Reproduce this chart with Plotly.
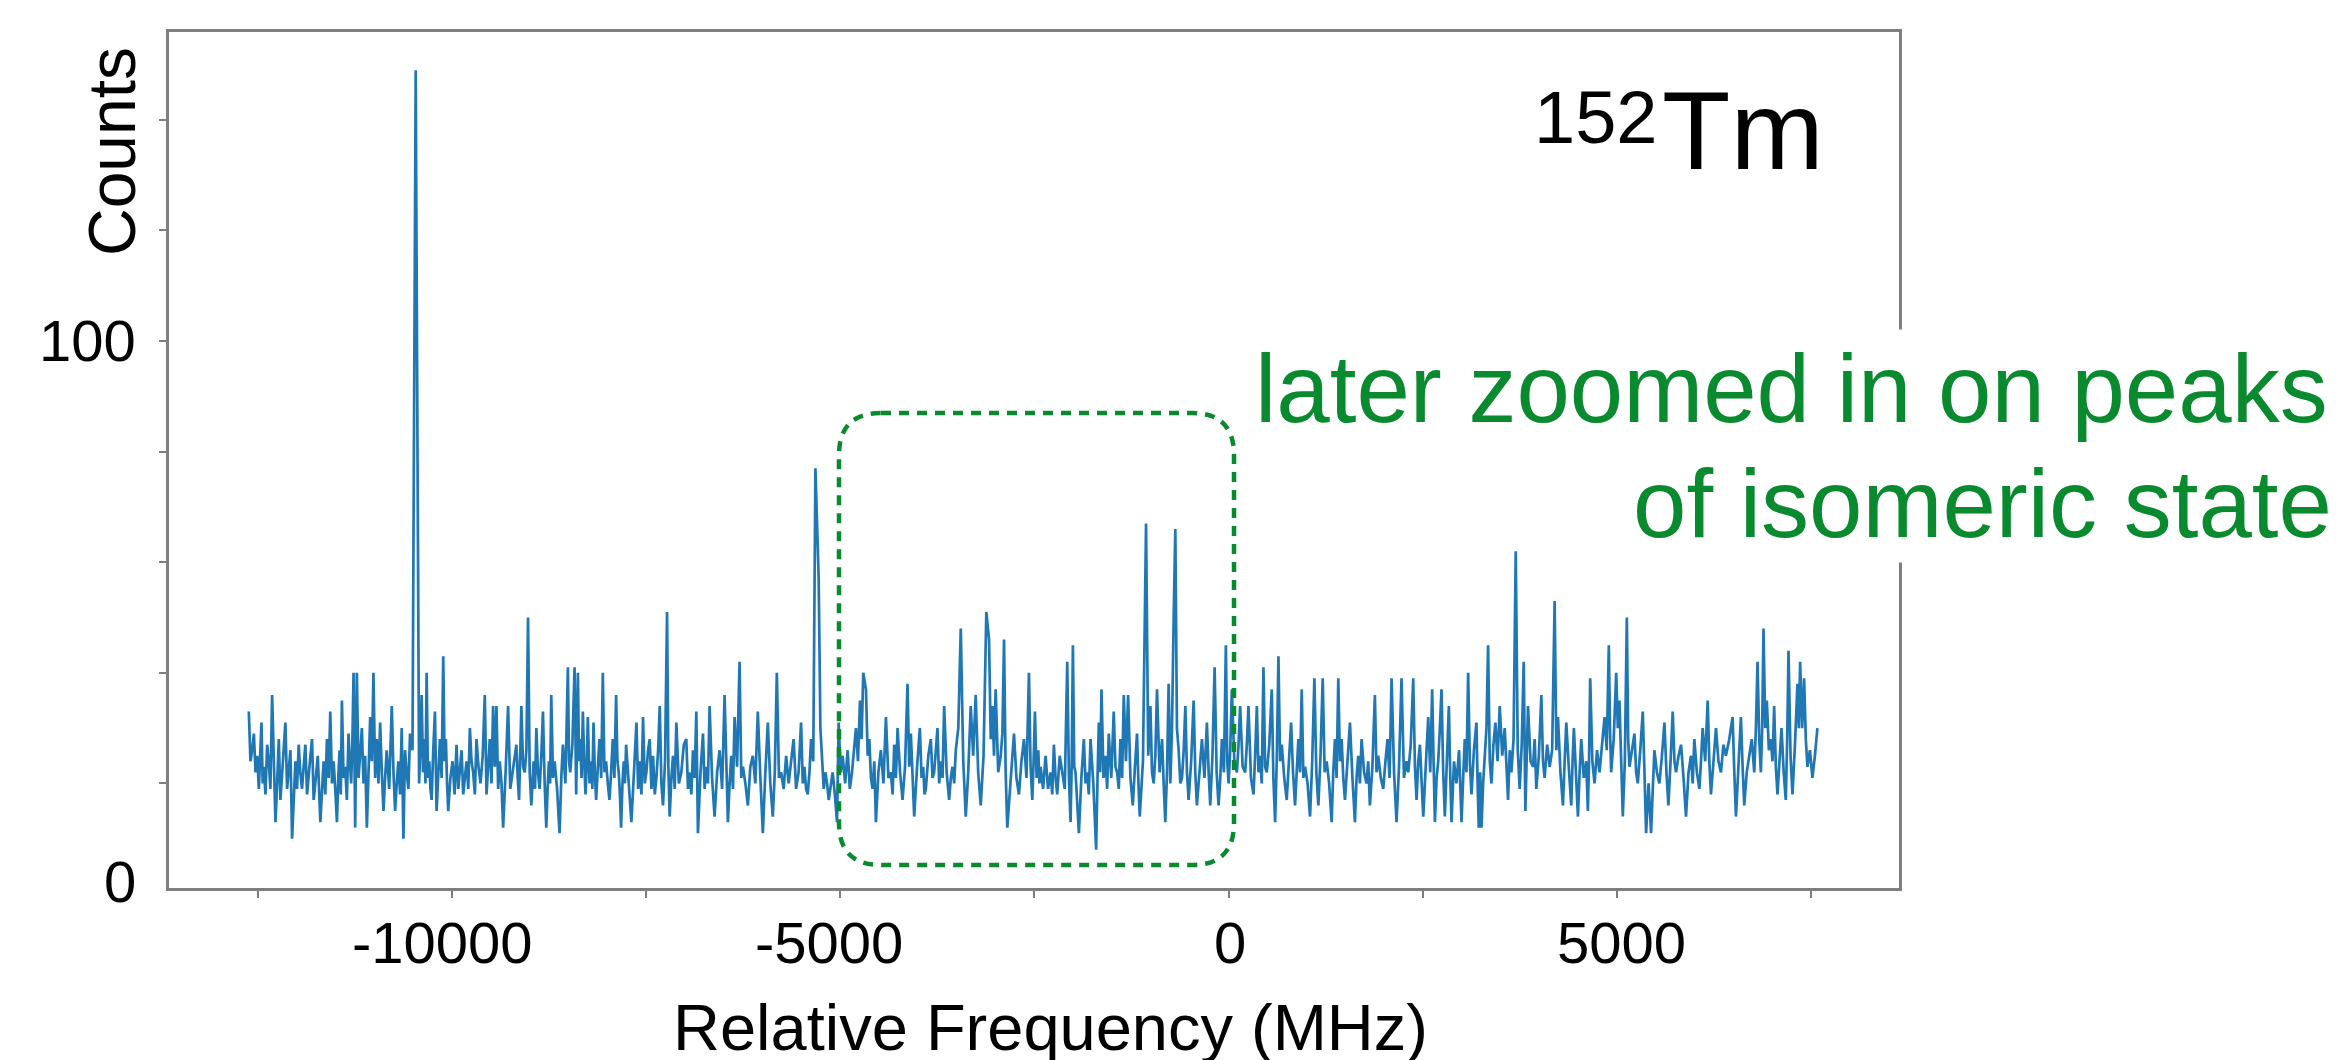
import plotly.graph_objects as go

# ---------------- data, (MHz, counts) ----------------
scan_part1 = [
(-12618,33),(-12597,24),(-12575,26),(-12553,29),(-12532,22),(-12510,25),(-12489,19),(-12472,24),(-12455,31),(-12440,20),
(-12425,23),(-12404,18),(-12382,27),(-12361,24),(-12340,19),(-12318,36),(-12296,21),(-12275,13),(-12253,20),(-12232,28),
(-12211,17),(-12190,22),(-12168,26),(-12147,31),(-12125,19),(-12104,22),(-12082,26),(-12061,10),(-12040,18),(-12018,24),
(-11997,19),(-11976,27),(-11955,22),(-11933,19),(-11912,23),(-11890,27),(-11868,18),(-11847,22),(-11825,25),(-11804,28),
(-11783,17),(-11762,20),(-11730,25),(-11697,13),(-11676,19),(-11655,24),(-11633,18),(-11612,28),(-11590,21),(-11569,33),
(-11547,20),(-11526,24),(-11505,19),(-11483,13),(-11466,21),(-11449,26),(-11434,18),(-11419,35),(-11398,21),(-11377,23),
(-11355,17),(-11334,29),(-11317,24),(-11300,20),(-11285,27),(-11269,40),(-11248,12),(-11227,40),(-11205,21),(-11184,26),
(-11162,30),(-11141,20),(-11120,25),(-11098,12),(-11076,22),(-11055,32),(-11034,24),(-11013,40),(-10991,21),(-10970,28),
(-10948,20),(-10927,31),(-10905,22),(-10884,15),(-10863,21),(-10842,26),(-10810,19),(-10777,34),(-10755,22),(-10734,15),
(-10713,20),(-10692,24),(-10670,18),(-10649,30),(-10627,10),(-10606,26),(-10585,22),(-10563,19),(-10542,29),(-10510,26),
(-10469,149),(-10425,20),(-10408,27),(-10392,36),(-10375,22),(-10358,28),(-10343,20),(-10328,40),(-10311,21),(-10294,24),
(-10279,19),(-10264,17),(-10243,26),(-10221,33),(-10200,15),(-10178,22),(-10157,28),(-10135,21),(-10114,43),(-10097,24),
(-10080,28),(-10065,20),(-10050,15),(-10022,21),(-9994,24),(-9968,18),(-9943,27),(-9921,19),(-9900,22),(-9878,26),
(-9857,18),(-9835,21),(-9814,24),(-9792,19),(-9771,30),(-9750,24),(-9729,22),(-9707,18),(-9686,28),(-9660,23),
(-9634,20),(-9606,25),(-9579,36),(-9557,18),(-9536,24),(-9515,28),(-9493,20),(-9472,34),(-9450,23),(-9429,34),
(-9407,19),(-9386,24),(-9364,20),(-9343,12),(-9311,22),(-9279,34),(-9251,19),(-9224,22),(-9198,25),(-9172,27),
(-9155,21),(-9138,17),(-9123,25),(-9108,34),(-9086,23),(-9065,22),(-9043,26),(-9022,50),(-9001,22),(-8980,16),
(-8965,20),(-8950,24),(-8932,19),(-8915,30),(-8894,22),(-8873,19),(-8851,25),(-8830,33),(-8808,20),(-8787,12),
(-8770,19),(-8753,24),(-8738,20),(-8723,36),(-8701,21),(-8680,24),(-8648,19),(-8616,11),(-8594,21),(-8573,27),
(-8541,20),(-8509,41),(-8494,24),(-8479,22),(-8451,27),(-8423,41),(-8402,18),(-8380,40),(-8365,24),(-8351,28),
(-8333,21),(-8316,33),(-8299,24),(-8282,18),(-8267,23),(-8252,32),(-8230,20),(-8209,24),(-8194,19),(-8179,31),
(-8162,22),(-8145,17),(-8123,23),(-8102,28),(-8080,21),(-8059,40),(-8038,22),(-8017,24),(-7995,20),(-7974,17),
(-7952,22),(-7931,28),(-7910,21),(-7888,36),(-7871,24),(-7854,22),(-7839,18),(-7824,12),(-7806,20),(-7789,24),
(-7774,20),(-7759,27),(-7725,20),
]

scan_part2 = [
(-7691,13),(-7658,22),(-7626,31),(-7604,19),(-7583,24),(-7562,18),(-7541,32),(-7519,20),(-7498,22),(-7476,26),
(-7455,28),(-7433,19),(-7412,25),(-7390,18),(-7369,21),(-7347,26),(-7326,34),(-7305,20),(-7284,16),(-7258,24),
(-7232,51),(-7215,23),(-7198,14),(-7176,21),(-7155,25),(-7133,19),(-7112,31),(-7080,20),(-7048,22),(-7016,27),
(-6984,28),(-6962,19),(-6941,22),(-6919,18),(-6898,26),(-6876,21),(-6855,33),(-6834,11),(-6801,22),(-6769,29),
(-6748,19),(-6727,23),(-6705,20),(-6684,34),(-6652,21),(-6620,14),(-6587,22),(-6555,26),(-6523,19),(-6491,36),
(-6469,22),(-6448,13),(-6426,20),(-6405,25),(-6383,19),(-6362,32),(-6330,23),(-6298,42),(-6276,21),(-6255,23),
(-6223,20),(-6191,16),(-6159,23),(-6127,25),(-6095,20),(-6063,33),(-6030,21),(-5998,11),(-5966,22),(-5934,31),
(-5902,20),(-5870,14),(-5844,22),(-5818,40),(-5790,21),(-5763,22),(-5730,19),(-5698,25),(-5666,20),(-5634,24),
(-5602,28),(-5570,19),(-5538,22),(-5506,31),(-5484,20),(-5463,23),(-5441,19),(-5420,18),(-5398,22),(-5377,28),
(-5349,24),(-5321,77),(-5279,57),(-5257,30),(-5236,25),(-5214,19),(-5193,22),(-5171,20),(-5150,17),(-5124,20),
(-5099,22),(-5071,18),(-5043,13),(-5022,31),(-4996,22),(-4970,25),(-4938,20),(-4906,26),(-4878,19),(-4850,22),
(-4824,26),(-4799,30),(-4773,24),(-4747,35),(-4726,28),(-4705,40),(-4670,37),(-4648,25),(-4627,28),(-4606,21),
(-4585,19),(-4563,24),(-4542,13),(-4510,22),(-4478,26),(-4445,20),(-4413,32),(-4381,21),(-4349,22),(-4327,18),
(-4306,27),(-4284,21),(-4263,30),(-4231,22),(-4199,17),(-4167,23),(-4135,38),(-4113,23),(-4092,29),(-4070,21),
(-4049,14),(-4012,23),(-3976,30),(-3954,21),(-3933,23),(-3916,18),(-3899,19),(-3867,25),(-3835,28),(-3813,21),
(-3792,22),(-3770,26),(-3749,30),(-3727,20),(-3706,24),(-3684,21),(-3663,34),(-3631,22),(-3599,17),(-3577,21),
(-3556,23),(-3534,20),(-3513,26),(-3481,30),(-3449,48),(-3417,24),(-3385,14),(-3353,22),(-3321,34),(-3289,25),
(-3257,36),(-3225,22),(-3192,16),(-3156,25),(-3120,51),(-3085,46),(-3063,28),(-3042,34),(-3021,25),(-3000,37),
(-2967,22),(-2935,25),(-2913,29),(-2892,46),(-2871,22),(-2850,12),(-2807,21),
]

scan_part3 = [
(-2764,29),(-2732,21),(-2700,18),(-2668,24),(-2635,28),(-2603,21),(-2571,40),(-2550,23),(-2528,17),(-2511,24),
(-2494,33),(-2472,21),(-2451,26),(-2436,20),(-2421,23),(-2389,19),(-2357,25),(-2325,19),(-2293,22),(-2271,18),
(-2250,27),(-2228,21),(-2207,18),(-2175,25),(-2143,22),(-2110,19),(-2078,42),(-2056,21),(-2035,13),(-2020,24),
(-2005,45),(-1988,23),(-1971,22),(-1950,17),(-1928,11),(-1896,21),(-1864,28),(-1842,20),(-1821,22),(-1800,18),
(-1778,28),(-1742,20),(-1706,8),(-1688,21),(-1671,31),(-1654,22),(-1637,37),(-1611,21),(-1586,25),(-1564,19),
(-1543,29),(-1511,21),(-1479,33),(-1457,23),(-1436,22),(-1414,19),(-1393,28),(-1371,21),(-1350,36),(-1322,24),
(-1294,36),(-1264,21),(-1234,16),(-1206,23),(-1179,29),(-1161,20),(-1144,14),(-1103,24),(-1063,67),(-1035,25),
(-1007,34),(-986,22),(-965,20),(-943,25),(-922,37),(-889,22),(-857,28),(-836,20),(-815,13),(-793,22),
(-772,38),(-750,20),(-729,30),(-707,50),(-686,66),(-665,30),(-643,26),(-621,20),(-600,21),(-578,26),
(-557,34),(-536,22),(-515,17),(-482,24),(-450,35),(-429,22),(-408,16),(-375,22),(-343,28),(-311,21),
(-279,31),(-257,22),(-236,16),(-208,25),(-180,41),(-154,22),(-129,16),(-107,21),(-86,28),(-60,22),
(-35,45),(-17,24),(0,20),(21,26),(42,37),(74,24),(107,22),(128,27),(149,34),(181,23),
(214,22),(235,27),(256,34),(288,21),(321,18),(342,25),(364,34),(385,22),(406,25),(427,20),
(449,41),(470,23),(492,22),(524,27),(556,37),(577,21),(599,13),(620,24),(642,43),(663,24),
(685,27),(717,21),(749,17),(777,24),(805,31),(830,22),(856,16),(877,22),(899,28),(920,22),
(942,37),(963,21),(985,23),(1017,20),(1049,14),(1077,24),(1105,39),(1130,22),(1156,16),(1184,25),
(1212,39),(1237,22),(1263,24),(1295,20),(1327,13),(1348,22),(1370,28),(1391,21),(1413,39),(1434,24),
(1456,28),(1477,21),(1499,17),(1531,24),(1563,31),(1595,21),(1627,13),(1648,21),(1670,25),(1691,20),
(1713,28),(1745,22),(1777,20),(1798,24),(1820,16),(1852,23),(1884,36),(1905,22),(1927,25),(1960,21),
(1992,19),(2020,24),(2047,28),(2073,21),(2099,39),(2131,22),(2163,13),(2195,23),(2227,39),(2259,21),
(2291,24),
]

scan_part4 = [
(2314,22),(2346,27),(2378,39),(2400,23),(2421,17),(2443,24),(2464,27),(2486,20),(2507,14),(2539,23),
(2571,32),(2597,22),(2622,37),(2640,24),(2657,13),(2679,21),(2700,24),(2721,30),(2742,37),(2764,22),
(2785,14),(2811,24),(2837,34),(2854,22),(2871,13),(2903,24),(2935,20),(2968,26),(3000,13),(3021,21),
(3042,28),(3064,22),(3085,40),(3107,24),(3128,18),(3160,26),(3192,31),(3207,20),(3222,12),(3240,22),
(3257,12),(3278,20),(3299,24),(3321,30),(3342,45),(3364,24),(3385,20),(3411,27),(3436,31),(3464,24),
(3492,34),(3524,25),(3556,30),(3578,22),(3599,17),(3621,26),(3642,22),(3670,28),(3698,62),(3724,26),
(3749,19),(3775,27),(3801,42),(3822,15),(3839,26),(3856,34),(3889,24),(3921,23),(3942,28),(3963,19),
(3996,25),(4028,36),(4049,24),(4070,21),(4103,27),(4135,23),(4167,26),(4199,53),(4221,26),(4242,32),
(4274,22),(4306,16),(4328,24),(4349,31),(4381,23),(4413,16),(4430,24),(4447,30),(4473,22),(4499,14),
(4521,22),(4542,28),(4574,21),(4606,24),(4627,15),(4642,24),(4657,39),(4685,24),(4713,20),(4745,26),
(4777,22),(4810,27),(4842,32),(4870,26),(4897,45),(4912,30),(4927,22),(4960,28),(4992,40),(5013,30),
(5034,35),(5056,24),(5077,14),(5103,24),(5129,50),(5146,28),(5163,23),(5195,26),(5227,29),(5249,22),
(5270,20),(5302,26),(5334,33),(5356,22),(5377,11),(5409,20),(5441,11),(5463,19),(5484,26),(5516,22),
(5548,20),(5581,25),(5613,31),(5639,22),(5664,16),(5692,24),(5720,33),(5742,24),(5763,22),(5795,25),
(5827,27),(5859,21),(5891,14),(5923,22),(5955,25),(5977,20),(5998,28),(6031,22),(6063,19),(6084,24),
(6105,30),(6138,24),(6170,35),(6191,24),(6212,18),(6245,24),(6277,30),(6309,24),(6341,22),(6373,27),
(6405,25),(6448,28),(6491,32),(6513,22),(6534,14),(6566,23),(6598,32),(6620,23),(6641,16),(6673,22),
(6705,25),(6738,28),(6770,22),(6791,30),(6812,42),(6834,28),(6855,22),(6872,30),(6889,48),(6911,30),
(6932,35),(6958,26),(6984,28),(7005,24),(7026,34),(7048,23),(7069,18),(7095,24),(7121,30),(7149,22),
(7176,17),(7194,28),(7211,44),(7237,25),(7262,18),(7294,27),(7326,38),(7344,30),(7361,42),(7387,30),
(7412,39),(7434,28),(7455,23),(7487,26),(7519,21),(7551,25),(7583,30),
]

y_tick_vals = [20, 40, 60, 80, 100, 120, 140]
x_tick_vals = [-12500, -10000, -7500, -5000, -2500, 0, 2500, 5000, 7500]
x_labels = ["-10000", "-5000", "0", "5000"]
y_labels = ["0", "100"]

x_range = [-13646, 8634]
y_range = [1.08, 155.9]

scan = scan_part1 + scan_part2 + scan_part3 + scan_part4
freq_mhz = [p[0] for p in scan]
counts = [p[1] for p in scan]

# ---------------- layout geometry (pixels) ----------------
W, H = 2346, 1060
L, R, T, B = 161, 1891, 24, 880
FONT = "Liberation Sans, Arial, Helvetica, sans-serif"
GREEN = "#0a8a2e"
AXIS = "#7f7f7f"


def px(x):
    return (x - L) / (R - L)


def py(y):
    return (B - y) / (B - T)


fig = go.Figure()
fig.add_trace(go.Scatter(
    x=freq_mhz, y=counts, mode="lines",
    line=dict(color="#1f77b4", width=2.7),
    hoverinfo="skip", showlegend=False,
))

fig.update_layout(
    width=W, height=H,
    margin=dict(l=L, r=W - R, t=T, b=H - B, pad=0),
    paper_bgcolor="white", plot_bgcolor="white",
    font=dict(family=FONT, color="black"),
    showlegend=False,
)

fig.update_xaxes(
    range=x_range, tickvals=x_tick_vals, showticklabels=False,
    showgrid=False, zeroline=False, showline=True, mirror=True,
    linecolor=AXIS, linewidth=2.5, ticks="outside", ticklen=7,
    tickwidth=2, tickcolor=AXIS, automargin=False,
)
fig.update_yaxes(
    range=y_range, tickvals=y_tick_vals, showticklabels=False,
    showgrid=False, zeroline=False, showline=True, mirror=True,
    linecolor=AXIS, linewidth=2.5, ticks="outside", ticklen=7,
    tickwidth=2, tickcolor=AXIS, automargin=False,
)

TICKFONT = dict(size=58, family=FONT, color="black")
ann = []
# x tick labels (centres measured under their ticks)
x_label_px = [434, 821, 1222, 1613]
for lab, xc in zip(x_labels, x_label_px):
    ann.append(dict(text=lab, x=px(xc), y=py(934), xref="paper", yref="paper",
                    xanchor="center", yanchor="middle", showarrow=False, font=TICKFONT))
# y tick labels
y_label_py = [873, 332]
for lab, yc in zip(y_labels, y_label_py):
    ann.append(dict(text=lab, x=px(130), y=py(yc), xref="paper", yref="paper",
                    xanchor="right", yanchor="middle", showarrow=False, font=TICKFONT))
# axis titles
ann.append(dict(text="Counts", x=px(104), y=py(144), xref="paper", yref="paper",
                textangle=-90, xanchor="center", yanchor="middle", showarrow=False,
                font=dict(size=66, family=FONT, color="black")))
ann.append(dict(text="Relative Frequency (MHz)", x=px(1042), y=py(1019), xref="paper",
                yref="paper", xanchor="center", yanchor="middle", showarrow=False,
                font=dict(size=65, family=FONT, color="black")))
# isotope label: mass number then symbol
ann.append(dict(text="152", x=px(1650), y=py(109), xref="paper", yref="paper",
                xanchor="right", yanchor="middle", showarrow=False, borderpad=0,
                font=dict(size=74, family=FONT, color="black")))
ann.append(dict(text="Tm", x=px(1653), y=py(122), xref="paper", yref="paper",
                xanchor="left", yanchor="middle", showarrow=False, borderpad=0,
                font=dict(size=112, family=FONT, color="black")))
# green note with white background
ann.append(dict(text="later zoomed in on peaks", x=px(2326), y=py(380), xref="paper",
                yref="paper", xanchor="right", yanchor="middle", showarrow=False,
                bgcolor="white", borderpad=5,
                font=dict(size=96, family=FONT, color=GREEN)))
ann.append(dict(text="of isomeric state", x=px(2330), y=py(496), xref="paper",
                yref="paper", xanchor="right", yanchor="middle", showarrow=False,
                bgcolor="white", borderpad=5,
                font=dict(size=96, family=FONT, color=GREEN)))
fig.update_layout(annotations=ann)

# dashed rounded rectangle around the isomer region
x0, x1, y0, y1, r = 831, 1226, 405, 857, 42


def P(x, y):
    return f"{px(x):.5f},{py(y):.5f}"


path = (f"M {P(x0 + r, y0)} L {P(x1 - r, y0)} Q {P(x1, y0)} {P(x1, y0 + r)} "
        f"L {P(x1, y1 - r)} Q {P(x1, y1)} {P(x1 - r, y1)} "
        f"L {P(x0 + r, y1)} Q {P(x0, y1)} {P(x0, y1 - r)} "
        f"L {P(x0, y0 + r)} Q {P(x0, y0)} {P(x0 + r, y0)} Z")
fig.add_shape(type="path", path=path, xref="paper", yref="paper",
              line=dict(color=GREEN, width=4.5, dash="10px,8px"), layer="above")

fig.write_html("out.html")
